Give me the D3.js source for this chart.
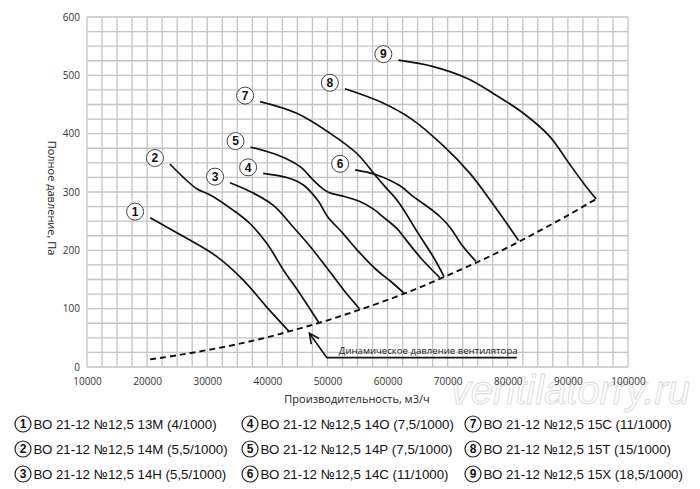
<!DOCTYPE html>
<html>
<head>
<meta charset="utf-8">
<script src="https://cdn.jsdelivr.net/npm/d3@7"></script>
<style>
  body { margin: 0; background: #fff; }
  svg { display: block; }
</style>
</head>
<body>
<div id="chart"></div>
<script>
// fan curves: [flow m3/h, total pressure Pa]
const curve1 = [[20500,256],[26000,224],[31500,190],[36000,149],[39800,104],[43600,61]];
const curve2 = [[23800,348],[28200,306],[30500,295],[34300,269],[37100,246],[39900,212],[42700,166],[45400,126],[48500,77]];
const curve3 = [[33800,316],[37500,299],[41000,277],[44300,240],[47100,207],[49000,182],[51000,155],[53000,128],[55300,100]];
const curve4 = [[39300,332],[43500,324],[46000,312],[48500,284],[50000,258],[52500,230],[55000,200],[58000,168],[60500,147],[62800,126]];
const curve5 = [[37200,377],[42000,362],[45500,343],[47500,322],[49300,305],[50500,298],[52600,293],[55300,284],[57600,271],[59300,257],[61500,238],[62600,224],[65600,186],[68700,153]];
const curve6 = [[54600,338],[58000,330],[62000,311],[64300,292],[66500,276],[68700,258],[70500,238],[72300,210],[74700,181]];
const curve7 = [[38800,455],[44900,435],[50400,401],[54900,366],[57700,332],[59500,310],[61800,283],[65100,229],[67600,189],[69400,155]];
const curve8 = [[52900,477],[58700,455],[64000,425],[69300,379],[73700,332],[77300,283],[81800,217]];
const curve9 = [[61800,526],[67600,515],[73200,495],[77600,469],[82600,435],[87000,395],[89800,355],[92600,315],[94700,288]];
const curves = [curve1, curve2, curve3, curve4, curve5, curve6, curve7, curve8, curve9];

// dynamic pressure of the fan (dashed)
const dynamicPressure = [[20500,13],[25000,20],[30000,29],[35000,39],[40000,51],[45000,65],[50000,80],[55000,97],[60000,115],[65000,135],[70000,157],[75000,180],[80000,205],[85000,232],[90000,260],[94700,288]];

const legendNames = [
  "ВО 21-12 №12,5 13М (4/1000)",
  "ВО 21-12 №12,5 14М (5,5/1000)",
  "ВО 21-12 №12,5 14Н (5,5/1000)",
  "ВО 21-12 №12,5 14О (7,5/1000)",
  "ВО 21-12 №12,5 14Р (7,5/1000)",
  "ВО 21-12 №12,5 14С (11/1000)",
  "ВО 21-12 №12,5 15С (11/1000)",
  "ВО 21-12 №12,5 15Т (15/1000)",
  "ВО 21-12 №12,5 15Х (18,5/1000)"
];

const xTicks = [10000,20000,30000,40000,50000,60000,70000,80000,90000,100000];
const yTicks = [0,100,200,300,400,500,600];

// annotation: arrow tip, elbow, line end (flow, pressure)
const annotation = { tip: [47000,58], elbow: [49900,16], end: [81500,16], text: "Динамическое давление вентилятора" };

const width = 700, height = 489;
const narrow = "'Liberation Sans Narrow', 'Arial Narrow', 'Liberation Sans', sans-serif";
const tickFont = "'Open Sans', 'DejaVu Sans', sans-serif";

const svg = d3.select('#chart')
    .append('svg')
    .attr('width', width)
    .attr('height', height);

const x = d3.scaleLinear().domain([10000, 100000]).range([87, 628]);
const y = d3.scaleLinear().domain([0, 600]).range([367, 17]);

// grid
const grid = svg.append('g').attr('stroke', '#c4c4c4').attr('stroke-width', 1.3);
grid.selectAll('.vx')
    .data(d3.range(10000, 100001, 2500))
    .enter()
    .append('line')
    .attr('x1', d => x(d)).attr('x2', d => x(d))
    .attr('y1', y(0)).attr('y2', y(600));
grid.selectAll('.hy')
    .data(d3.range(0, 601, 25))
    .enter()
    .append('line')
    .attr('x1', x(10000)).attr('x2', x(100000))
    .attr('y1', d => y(d)).attr('y2', d => y(d));

// watermark (behind the labels)
svg.append('text')
    .attr('x', 690)
    .attr('y', 404)
    .attr('text-anchor', 'end')
    .attr('font-family', narrow)
    .attr('font-style', 'italic')
    .attr('font-size', 40)
    .attr('fill', '#fff')
    .attr('fill-opacity', 0.6)
    .attr('stroke', '#dadada')
    .attr('stroke-width', 0.9)
    .text('ventilatorry.ru');

// axes (labels only)
const xAxis = svg.append('g')
    .attr('transform', `translate(0,${y(0) + 4})`)
    .call(d3.axisBottom(x).tickValues(xTicks).tickSize(0).tickFormat(d3.format('d')));
const yAxis = svg.append('g')
    .attr('transform', `translate(${x(10000) - 4},0)`)
    .call(d3.axisLeft(y).tickValues(yTicks).tickSize(0).tickFormat(d3.format('d')));
[xAxis, yAxis].forEach(a => {
    a.select('.domain').remove();
    a.selectAll('text')
        .attr('font-family', tickFont)
        .attr('font-size', 10)
        .attr('fill', '#333');
});
xAxis.selectAll('text').attr('dy', '1.1em');

svg.append('text')
    .attr('transform', `translate(48,${(y(0) + y(600)) / 2 + 6}) rotate(90)`)
    .attr('text-anchor', 'middle')
    .attr('font-family', tickFont)
    .attr('font-size', 11)
    .attr('fill', '#222')
    .text('Полное давление, Па');

svg.append('text')
    .attr('x', 357)
    .attr('y', 403)
    .attr('text-anchor', 'middle')
    .attr('font-family', tickFont)
    .attr('font-size', 11)
    .attr('fill', '#222')
    .text('Производительность, м3/ч');

// curves
const line = d3.line()
    .x(d => x(d[0]))
    .y(d => y(d[1]))
    .curve(d3.curveCatmullRom.alpha(0.5));

svg.append('path')
    .datum(dynamicPressure)
    .attr('d', line)
    .attr('fill', 'none')
    .attr('stroke', '#111')
    .attr('stroke-width', 1.9)
    .attr('stroke-dasharray', '6,4');

svg.selectAll('.curve')
    .data(curves)
    .enter()
    .append('path')
    .attr('class', 'curve')
    .attr('d', line)
    .attr('fill', 'none')
    .attr('stroke', '#111')
    .attr('stroke-width', 1.7);

// numbered markers next to each curve start
const marks = svg.selectAll('.mark')
    .data(curves)
    .enter()
    .append('g')
    .attr('class', 'mark')
    .attr('transform', d => `translate(${x(d[0][0]) - 15},${y(d[0][1]) - 6})`);
marks.append('circle')
    .attr('r', 8.5)
    .attr('fill', '#fff')
    .attr('stroke', '#444')
    .attr('stroke-width', 1);
marks.append('text')
    .attr('text-anchor', 'middle')
    .attr('dy', '0.36em')
    .attr('font-family', narrow)
    .attr('font-weight', 'bold')
    .attr('font-size', 12)
    .attr('fill', '#111')
    .text((d, i) => i + 1);

// annotation
svg.append('path')
    .attr('d', `M${x(annotation.end[0])},${y(annotation.end[1])}L${x(annotation.elbow[0])},${y(annotation.elbow[1])}L${x(annotation.tip[0])},${y(annotation.tip[1])}`)
    .attr('fill', 'none')
    .attr('stroke', '#111')
    .attr('stroke-width', 1.6);
{
    const tx = x(annotation.tip[0]), ty = y(annotation.tip[1]);
    const ang = Math.atan2(y(annotation.elbow[1]) - ty, x(annotation.elbow[0]) - tx);
    const len = 11, spread = 0.45;
    svg.append('path')
        .attr('d', `M${tx + len * Math.cos(ang - spread)},${ty + len * Math.sin(ang - spread)}L${tx},${ty}L${tx + len * Math.cos(ang + spread)},${ty + len * Math.sin(ang + spread)}`)
        .attr('fill', 'none')
        .attr('stroke', '#111')
        .attr('stroke-width', 1.6);
}
svg.append('text')
    .attr('x', x(annotation.elbow[0]) + 12)
    .attr('y', y(annotation.end[1]) - 4)
    .attr('font-family', tickFont)
    .attr('font-size', 9.6)
    .attr('fill', '#222')
    .text(annotation.text);

// legend
const legend = svg.selectAll('.legend')
    .data(legendNames)
    .enter()
    .append('g')
    .attr('class', 'legend')
    .attr('transform', (d, i) => `translate(${[23, 250, 473][Math.floor(i / 3)]},${424 + (i % 3) * 25})`);
legend.append('circle')
    .attr('r', 8)
    .attr('fill', '#fff')
    .attr('stroke', '#222')
    .attr('stroke-width', 1.2);
legend.append('text')
    .attr('text-anchor', 'middle')
    .attr('dy', '0.36em')
    .attr('font-family', narrow)
    .attr('font-weight', 'bold')
    .attr('font-size', 12)
    .attr('fill', '#111')
    .text((d, i) => i + 1);
legend.append('text')
    .attr('x', 10.5)
    .attr('dy', '0.36em')
    .attr('font-family', narrow)
    .attr('font-size', 13.3)
    .attr('fill', '#111')
    .text(d => d);
</script>
</body>
</html>
